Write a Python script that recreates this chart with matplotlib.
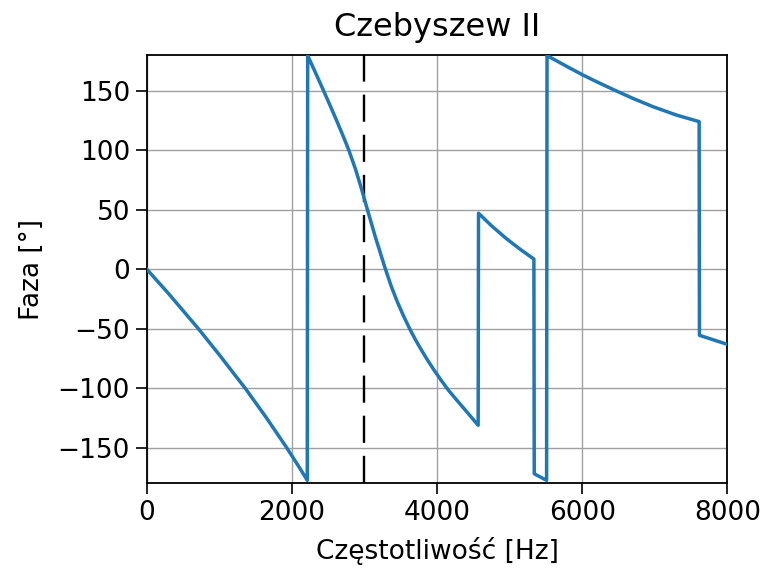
import numpy as np
import matplotlib
matplotlib.use("Agg")
import matplotlib.pyplot as plt

#-------------------------------------------------------------------------------
# phase response (Hz, degrees)

freq = [0, 300, 711, 1000, 1368, 1650, 1928, 2112, 2212,
        2218, 2330, 2433, 2520, 2600, 2700, 2785, 2880, 2960, 3032, 3150, 3284,
        3370, 3450, 3540, 3627, 3700, 3780, 3860, 3950, 4050, 4154, 4250, 4350,
        4460, 4567,
        4572, 4750, 4959, 5150, 5335,
        5340, 5510,
        5516, 5800, 6000, 6200, 6427, 6700, 6978, 7300, 7612,
        7616, 8000]

phase = [0, -20.5, -50, -72, -101, -125, -150, -167.5, -177.5,
         179.5, 164.5, 150.5, 138.5, 127.3, 112.8, 100, 83.4, 67.4, 51.9, 27.1, 1,
         -14.5, -27, -39.5, -50.5, -59, -67.5, -75.5, -84, -92.8, -101.5, -108.5, -115.6,
         -123.5, -131.2,
         47, 36.5, 25.5, 16.5, 8.5,
         -172, -177.5,
         179.5, 170, 163.5, 157.5, 151, 143.5, 136.5, 129.5, 124,
         -55.6, -63.2]

f_cut = 3000

xticks = [0, 2000, 4000, 6000, 8000]
yticks = [-150, -100, -50, 0, 50, 100, 150]

#-------------------------------------------------------------------------------

fig = plt.figure(figsize=(7.63, 5.68), dpi=100)
ax = fig.add_axes([0.1923, 0.1491, 0.7609, 0.7541])

ax.plot(freq, phase, color='#1f77b4', linewidth=2.5, zorder=3)
ax.axvline(f_cut, color='black', linewidth=1.7, dashes=(11.5, 5.5), zorder=2)

ax.set_xlim(0, 8000)
ax.set_ylim(-180, 180)
ax.set_xticks(xticks)
ax.set_yticks(yticks)
ax.grid(True, color='#a0a0a0', linewidth=1.0)

ax.tick_params(labelsize=19, length=8, width=1.2, pad=4)
for s in ax.spines.values():
    s.set_linewidth(1.3)

ax.set_title('Czebyszew II', fontsize=23, pad=14)
ax.set_xlabel('Częstotliwość [Hz]', fontsize=19, labelpad=8)
ax.set_ylabel('Faza [°]', fontsize=19, labelpad=9)

fig.savefig('out.png', dpi=100)
